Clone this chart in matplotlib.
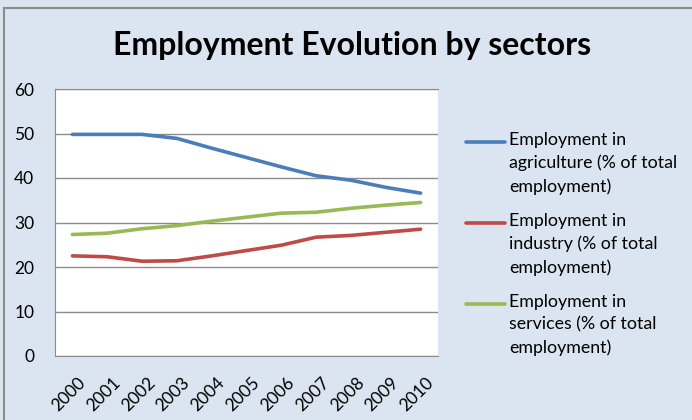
import matplotlib
matplotlib.use("Agg")
import matplotlib.pyplot as plt
from matplotlib.patches import Rectangle
from matplotlib.lines import Line2D
from matplotlib.transforms import ScaledTranslation

years = ["2000", "2001", "2002", "2003", "2004", "2005", "2006", "2007", "2008", "2009", "2010"]
agriculture = [49.8, 49.8, 49.8, 48.9, 46.7, 44.6, 42.5, 40.5, 39.5, 37.9, 36.6]
industry = [22.5, 22.3, 21.3, 21.4, 22.5, 23.7, 24.9, 26.7, 27.1, 27.8, 28.5]
services = [27.3, 27.6, 28.6, 29.3, 30.3, 31.2, 32.1, 32.3, 33.2, 33.9, 34.5]
labels = ["Employment in\nagriculture (% of total\nemployment)",
          "Employment in\nindustry (% of total\nemployment)",
          "Employment in\nservices (% of total\nemployment)"]
title = "Employment Evolution by sectors"

W, H = 692, 420
bg = "#DBE5F1"
plt.rcParams['font.family'] = ['Lato', 'DejaVu Sans']
fig = plt.figure(figsize=(W / 100, H / 100), dpi=100, facecolor=bg)

# outer border (cut at right/bottom)
fig.patches.append(Rectangle((4 / W, -0.1), 1.2, (H - 8) / H + 0.1, transform=fig.transFigure,
                             facecolor=bg, edgecolor="#8c8c8c", linewidth=1.5, zorder=-5))

left, right, top, bottom = 55, 438, 89, 356
ax = fig.add_axes([left / W, 1 - bottom / H, (right - left) / W, (bottom - top) / H])
ax.set_facecolor("white")

x = range(len(years))
colors = ["#4A7EBB", "#BE4B48", "#98B954"]
lines = []
for series, c, lab in zip([agriculture, industry, services], colors, labels):
    ln, = ax.plot(x, series, color=c, linewidth=2.6, label=lab, solid_capstyle="round")
    lines.append(ln)

ax.set_xlim(-0.5, len(years) - 0.5)
ax.set_ylim(0, 60)
ax.set_yticks(range(0, 61, 10))
ax.set_xticks(list(x))
ax.set_xticklabels(years, rotation=45, ha="right", rotation_mode="anchor", fontsize=12.5)
ax.tick_params(axis="y", labelsize=12.5, length=0, pad=15)
ax.tick_params(axis="x", length=0, pad=13)
off = ScaledTranslation(5 / 100, 0, fig.dpi_scale_trans)
for lbl in ax.get_xticklabels():
    lbl.set_transform(lbl.get_transform() + off)
ax.grid(axis="y", color="#8c8c8c", linewidth=1)
ax.set_axisbelow(True)
for s in ["left", "bottom", "top"]:
    ax.spines[s].set_color("#8c8c8c")
ax.spines["right"].set_visible(False)

fig.text(352 / W, 1 - 46 / H, title, ha="center", va="center", fontsize=23, fontweight="bold")

# manual legend
for i, (ln, lab) in enumerate(zip(lines, labels)):
    y0 = 142 + i * 81
    fig.add_artist(Line2D([466 / W, 505 / W], [1 - y0 / H, 1 - y0 / H], transform=fig.transFigure,
                          color=ln.get_color(), linewidth=2.6, solid_capstyle="round"))
    fig.text(509 / W, 1 - (y0 - 10) / H, lab, ha="left", va="top", fontsize=12.8,
             linespacing=1.5)

fig.savefig("out.png", dpi=100, facecolor=bg)
